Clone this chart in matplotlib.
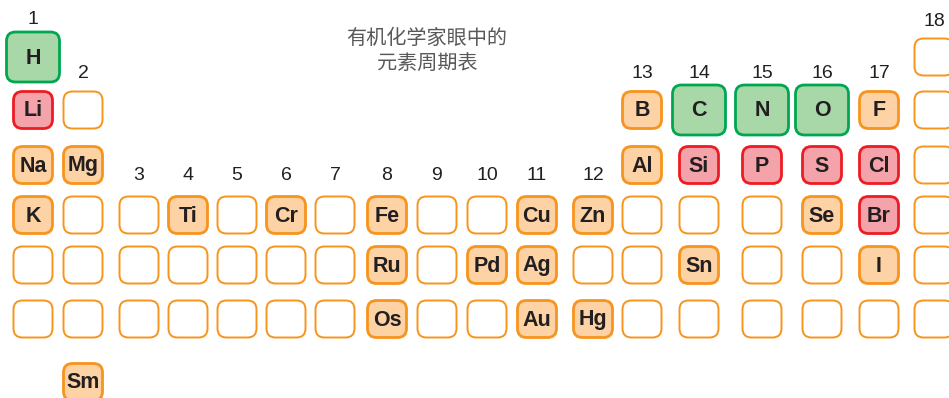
import matplotlib.pyplot as plt
from matplotlib.patches import FancyBboxPatch

plt.rcParams['font.family'] = ['Liberation Sans', 'DejaVu Sans']

# element cells: (symbol, group, period, kind)
# kind: 'core' = green, 'hetero' = red, 'used' = orange filled, '' = empty
cells = [
    ('H', 1, 1, 'core'), ('', 18, 1, ''),
    ('Li', 1, 2, 'hetero'), ('', 2, 2, ''), ('B', 13, 2, 'used'),
    ('C', 14, 2, 'core'), ('N', 15, 2, 'core'), ('O', 16, 2, 'core'),
    ('F', 17, 2, 'used'), ('', 18, 2, ''),
    ('Na', 1, 3, 'used'), ('Mg', 2, 3, 'used'), ('Al', 13, 3, 'used'),
    ('Si', 14, 3, 'hetero'), ('P', 15, 3, 'hetero'), ('S', 16, 3, 'hetero'),
    ('Cl', 17, 3, 'hetero'), ('', 18, 3, ''),
    ('K', 1, 4, 'used'), ('', 2, 4, ''), ('', 3, 4, ''), ('Ti', 4, 4, 'used'),
    ('', 5, 4, ''), ('Cr', 6, 4, 'used'), ('', 7, 4, ''), ('Fe', 8, 4, 'used'),
    ('', 9, 4, ''), ('', 10, 4, ''), ('Cu', 11, 4, 'used'), ('Zn', 12, 4, 'used'),
    ('', 13, 4, ''), ('', 14, 4, ''), ('', 15, 4, ''), ('Se', 16, 4, 'used'),
    ('Br', 17, 4, 'hetero'), ('', 18, 4, ''),
    ('', 1, 5, ''), ('', 2, 5, ''), ('', 3, 5, ''), ('', 4, 5, ''), ('', 5, 5, ''),
    ('', 6, 5, ''), ('', 7, 5, ''), ('Ru', 8, 5, 'used'), ('', 9, 5, ''),
    ('Pd', 10, 5, 'used'), ('Ag', 11, 5, 'used'), ('', 12, 5, ''), ('', 13, 5, ''),
    ('Sn', 14, 5, 'used'), ('', 15, 5, ''), ('', 16, 5, ''), ('I', 17, 5, 'used'),
    ('', 18, 5, ''),
    ('', 1, 6, ''), ('', 2, 6, ''), ('', 3, 6, ''), ('', 4, 6, ''), ('', 5, 6, ''),
    ('', 6, 6, ''), ('', 7, 6, ''), ('Os', 8, 6, 'used'), ('', 9, 6, ''),
    ('', 10, 6, ''), ('Au', 11, 6, 'used'), ('Hg', 12, 6, 'used'), ('', 13, 6, ''),
    ('', 14, 6, ''), ('', 15, 6, ''), ('', 16, 6, ''), ('', 17, 6, ''), ('', 18, 6, ''),
    ('Sm', 2, 7, 'used'),
]
groups = list(range(1, 19))
title = '有机化学家眼中的\n元素周期表'

# layout (pixels)
col_x = [33, 83, 139, 188, 237, 286, 335, 387, 437, 487, 537, 593,
         642, 699, 762, 822, 879, 934]
row_y = {1: 57, 2: 110, 3: 165, 4: 215, 5: 265, 6: 319, 7: 382}
label_y = [19, 73] + [175] * 10 + [73] * 5 + [22]

styles = {
    'core': dict(fc='#a8d8a8', ec='#00a651', lw=2.0, size=(53, 50)),
    'hetero': dict(fc='#f5a3ab', ec='#ed1c24', lw=2.0, size=(39, 37)),
    'used': dict(fc='#fdd2a4', ec='#f7941d', lw=2.0, size=(39, 37)),
    '': dict(fc='white', ec='#f7941d', lw=1.4, size=(39, 37)),
}

fig = plt.figure(figsize=(9.49, 3.98), dpi=100)
ax = fig.add_axes([0, 0, 1, 1])
ax.set_xlim(0, 949)
ax.set_ylim(398, 0)
ax.axis('off')

for sym, g, p, kind in cells:
    st = styles[kind]
    w, h = st['size']
    cx, cy = col_x[g - 1], row_y[p]
    box = FancyBboxPatch((cx - w / 2, cy - h / 2), w, h,
                         boxstyle='round,pad=0,rounding_size=9',
                         fc=st['fc'], ec=st['ec'], lw=st['lw'])
    ax.add_patch(box)
    if sym:
        ax.text(cx, cy + 1, sym, ha='center', va='center', fontsize=15.5,
                fontweight='bold', color='#231f20')

for g, ly in zip(groups, label_y):
    ax.text(col_x[g - 1], ly, str(g), ha='center', va='center',
            fontsize=14, color='#231f20')

ax.text(427, 51, title, ha='center', va='center', fontsize=14.5,
        color='#58595b', linespacing=1.2,
        family=['Noto Sans CJK SC', 'DejaVu Sans'])

fig.savefig('out.png', dpi=100)
